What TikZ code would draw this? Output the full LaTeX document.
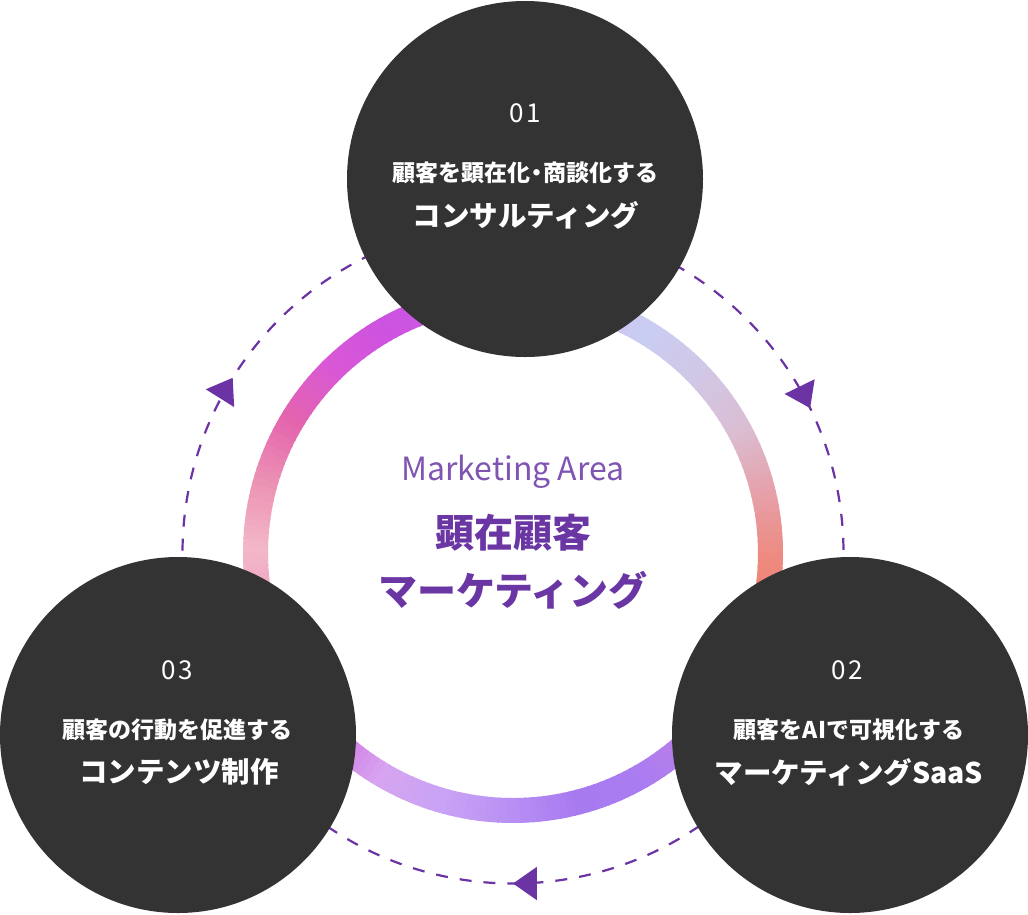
\documentclass[tikz,border=0pt]{standalone}
\usepackage{fontspec}
\setmainfont{Noto Sans CJK JP}
\newfontfamily\numfont{Noto Sans CJK JP}[LetterSpace=8]
\usetikzlibrary{arrows.meta,decorations.markings}

\definecolor{stagegray}{HTML}{333333}
\definecolor{areapurple}{HTML}{6A36A4}
\definecolor{flowpurple}{HTML}{6B33A3}
% ring colours, every 15 degrees clockwise from the top
\definecolor{rg0}{HTML}{D2A8EC}
\definecolor{rg1}{HTML}{CCBCF0}
\definecolor{rg2}{HTML}{C9CDF3}
\definecolor{rg3}{HTML}{D1C7E6}
\definecolor{rg4}{HTML}{DABFD4}
\definecolor{rg5}{HTML}{E5A2AC}
\definecolor{rg6}{HTML}{EE8A80}
\definecolor{rg7}{HTML}{F0806F}
\definecolor{rg8}{HTML}{DA7EA8}
\definecolor{rg9}{HTML}{BA80E6}
\definecolor{rg10}{HTML}{AA7CF2}
\definecolor{rg11}{HTML}{A87AF0}
\definecolor{rg12}{HTML}{B890F4}
\definecolor{rg13}{HTML}{C9A3F5}
\definecolor{rg14}{HTML}{D6A4F0}
\definecolor{rg15}{HTML}{D272E2}
\definecolor{rg16}{HTML}{E070D0}
\definecolor{rg17}{HTML}{EC9EC4}
\definecolor{rg18}{HTML}{F3B8C8}
\definecolor{rg19}{HTML}{EC92B4}
\definecolor{rg20}{HTML}{E464AE}
\definecolor{rg21}{HTML}{D958D6}
\definecolor{rg22}{HTML}{CD52E0}
\definecolor{rg23}{HTML}{C85CE6}

\begin{document}
\begin{tikzpicture}[x=1pt, y=1pt,
    stage/.style = {circle, fill=stagegray, minimum size=356pt, inner sep=0pt},
    num/.style = {text=white, font=\numfont\fontsize{26}{26}\selectfont},
    lead/.style = {text=white, font=\bfseries\fontsize{23}{23}\selectfont},
    title/.style = {text=white, font=\bfseries\fontsize{28.5}{28.5}\selectfont},
    ringseg/.style = {line width=25pt},
    flow/.style = {draw=flowpurple, color=flowpurple, line width=2.2pt, dash pattern=on 12pt off 12pt,
        decoration={markings,
            mark=at position 0.1778 with {\arrow{Triangle[length=24pt, width=33pt]}},
            mark=at position 0.5 with {\arrow{Triangle[length=24pt, width=33pt]}},
            mark=at position 0.8389 with {\arrow{Triangle[length=24pt, width=33pt]}}},
        postaction={decorate}}]
    \useasboundingbox (0,0) rectangle (1028,-914);
    \coordinate (ctr) at (513,-553);

    % gradient ring
    \foreach \a/\ca/\cb in {90/rg0/rg1, 75/rg1/rg2, 60/rg2/rg3, 45/rg3/rg4, 30/rg4/rg5, 15/rg5/rg6,
        0/rg6/rg7, -15/rg7/rg8, -30/rg8/rg9, -45/rg9/rg10, -60/rg10/rg11, -75/rg11/rg12,
        -90/rg12/rg13, -105/rg13/rg14, -120/rg14/rg15, -135/rg15/rg16, -150/rg16/rg17, -165/rg17/rg18,
        -180/rg18/rg19, -195/rg19/rg20, -210/rg20/rg21, -225/rg21/rg22, -240/rg22/rg23, -255/rg23/rg0} {
        \foreach \j in {0,...,9} {
            \pgfmathsetmacro\st{\a-1.5*\j}
            \pgfmathsetmacro\pct{100-10*\j}
            \draw[ringseg, \ca!\pct!\cb] (ctr) ++(\st:257.5) arc[start angle=\st, delta angle=-1.9, radius=257.5];
        }
    }

    % dashed cycle
    \draw[flow] (ctr) ++(90:330.5) arc[start angle=90, delta angle=-360, radius=330.5];

    \node[stage] (c1) at (525,-179) {};
    \node[stage] (c2) at (850,-735) {};
    \node[stage] (c3) at (178,-735) {};

    \node[num] (n1) at (525,-113) {01};
    \node[lead] (l1) at (525,-173) {顧客を顕在化\kern-5pt・\kern-5pt商談化する};
    \node[title] (t1) at (526,-215) {コンサルティング};

    \node[num] (n2) at (847,-670) {02};
    \node[lead] (l2) at (849,-730) {顧客をAIで可視化する};
    \node[title] (t2) at (849,-772) {マーケティングSaaS};

    \node[num] (n3) at (177,-670) {03};
    \node[lead] (l3) at (177,-730) {顧客の行動を促進する};
    \node[title] (t3) at (179,-772) {コンテンツ制作};

    \node[text=areapurple!85!white, font=\fontsize{32}{32}\selectfont] (area) at (513,-472) {Marketing Area};
    \node[text=areapurple, font=\bfseries\fontsize{39}{39}\selectfont] (head1) at (513,-533) {顕在顧客};
    \node[text=areapurple, font=\bfseries\fontsize{39}{39}\selectfont] (head2) at (513,-590) {マーケティング};
\end{tikzpicture}
\end{document}
